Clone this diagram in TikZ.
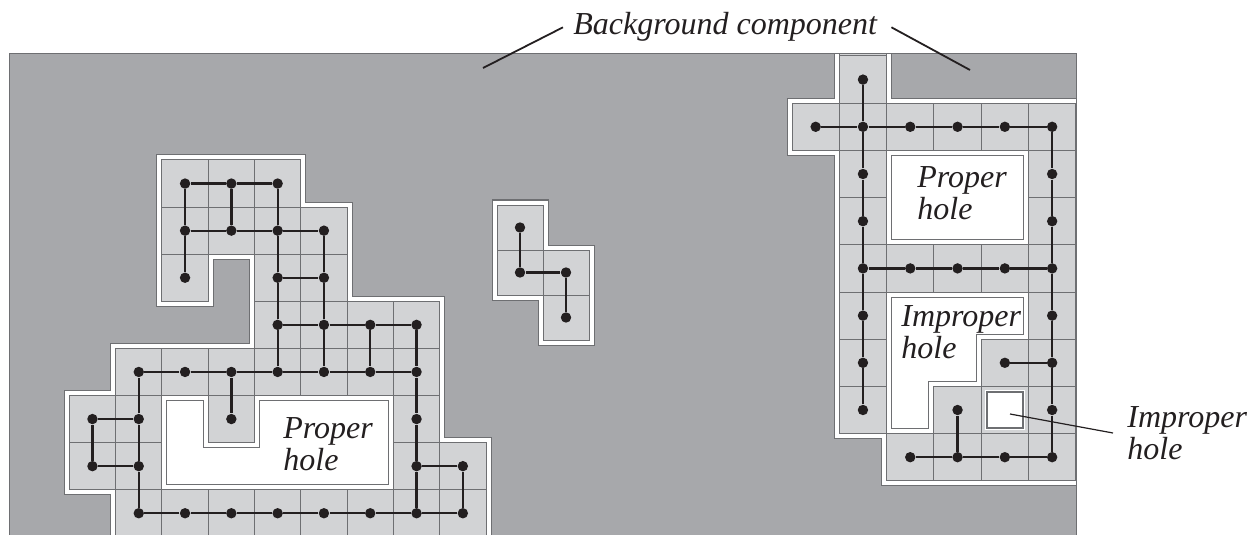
\documentclass[tikz,border=0pt]{standalone}
\usepackage{fontspec}
\setmainfont{Liberation Serif}
\definecolor{bg}{HTML}{A7A8AB}
\definecolor{cell}{HTML}{D2D3D5}
\definecolor{gridc}{HTML}{6E6F72}
\definecolor{ink}{HTML}{231F20}
\tikzset{
  dot/.style={circle,fill=ink,inner sep=0pt,minimum size=5.2pt},
  conn/.style={draw=ink,line width=1.15pt},
  gridline/.style={draw=gridc,line width=0.5pt},
  bandout/.style={draw=gridc,line width=5.5pt,line join=miter},
  bandin/.style={draw=white,line width=4.5pt,line join=miter},
  lbl/.style={font=\fontsize{16}{16}\selectfont\itshape,text=ink,inner sep=0pt,anchor=base west},
  lead/.style={draw=ink,line width=0.9pt},
  leadthin/.style={draw=ink,line width=0.6pt},
}
\def\Louter{(2,0) -- (5,0) -- (5,1) -- (6,1) -- (6,3) -- (8,3) -- (8,6) -- (9,6) -- (9,8.6) -- (1,8.6) -- (1,7) -- (0,7) -- (0,5) -- (1,5) -- (1,4) -- (4,4) -- (4,2) -- (3,2) -- (3,3) -- (2,3) -- cycle}
\def\Lhole{(2,5) -- (3,5) -- (3,6) -- (4,6) -- (4,5) -- (7,5) -- (7,7) -- (2,7) -- cycle}
\def\Mouter{(0,0) -- (1,0) -- (1,1) -- (2,1) -- (2,3) -- (1,3) -- (1,2) -- (0,2) -- cycle}
\def\Router{(1,-0.6) -- (2,-0.6) -- (2,1) -- (6.6,1) -- (6.6,9) -- (2,9) -- (2,8) -- (1,8) -- (1,2) -- (0,2) -- (0,1) -- (1,1) -- cycle}
\def\Rholea{(2,2) -- (5,2) -- (5,4) -- (2,4) -- cycle}
\def\Rholeb{(2,5) -- (5,5) -- (5,6) -- (4,6) -- (4,7) -- (3,7) -- (3,8) -- (2,8) -- cycle}
\begin{document}
\begin{tikzpicture}[x=0.5pt,y=-0.5pt]
\useasboundingbox (0,0) rectangle (1259,535);
\fill[bg] (9.5,54) rectangle (1076.5,535);
\begin{scope}
\clip (9.5,54) rectangle (1076.5,535);
% ---------------- left component
\begin{scope}[shift={(69.3,160)},x=23.15pt,y=-23.55pt]
  \draw[bandout] \Louter; \draw[bandin] \Louter;
  \fill[cell] \Louter;
  \begin{scope}
    \clip \Louter;
    \foreach \i in {0,...,9} \draw[gridline] (\i,-1) -- (\i,10);
    \foreach \j in {0,...,9} \draw[gridline] (-1,\j) -- (10,\j);
  \end{scope}
  \fill[white] \Lhole;
  \begin{scope}
    \clip \Lhole;
    \draw[bandout] \Lhole; \draw[bandin] \Lhole;
  \end{scope}
  \draw[gridline] \Lhole;
  \draw[gridline] \Louter;
  \foreach \cx/\ry in {2/0,3/0,4/0, 2/1,3/1,4/1,5/1, 2/2,4/2,5/2, 4/3,5/3,6/3,7/3,
      1/4,2/4,3/4,4/4,5/4,6/4,7/4, 0/5,1/5,3/5,7/5, 0/6,1/6,7/6,8/6,
      1/7,2/7,3/7,4/7,5/7,6/7,7/7,8/7}
    \node[dot] (L\cx-\ry) at (\cx+0.5,\ry+0.5) {};
  \foreach \a/\b in {L2-0/L3-0, L3-0/L4-0, L2-1/L3-1, L3-1/L4-1, L4-1/L5-1, L4-2/L5-2,
      L4-3/L5-3, L5-3/L6-3, L6-3/L7-3, L1-4/L2-4, L2-4/L3-4, L3-4/L4-4, L4-4/L5-4,
      L5-4/L6-4, L6-4/L7-4, L0-5/L1-5, L0-6/L1-6, L7-6/L8-6, L1-7/L2-7, L2-7/L3-7,
      L3-7/L4-7, L4-7/L5-7, L5-7/L6-7, L6-7/L7-7, L7-7/L8-7,
      L2-0/L2-1, L3-0/L3-1, L4-0/L4-1, L2-1/L2-2, L4-1/L4-2, L5-1/L5-2, L4-2/L4-3,
      L5-2/L5-3, L4-3/L4-4, L5-3/L5-4, L6-3/L6-4, L7-3/L7-4, L3-4/L3-5, L1-4/L1-5,
      L1-5/L1-6, L1-6/L1-7, L7-4/L7-5, L7-5/L7-6, L7-6/L7-7, L0-5/L0-6, L8-6/L8-7}
    \draw[conn] (\a) -- (\b);
\end{scope}
% ---------------- middle component
\begin{scope}[shift={(497,205)},x=23pt,y=-22.5pt]
  \draw[bandout] \Mouter; \draw[bandin] \Mouter;
  \fill[cell] \Mouter;
  \begin{scope}
    \clip \Mouter;
    \foreach \i in {0,...,2} \draw[gridline] (\i,-1) -- (\i,4);
    \foreach \j in {0,...,3} \draw[gridline] (-1,\j) -- (3,\j);
  \end{scope}
  \draw[gridline] \Mouter;
  \foreach \cx/\ry in {0/0,0/1,1/1,1/2}
    \node[dot] (M\cx-\ry) at (\cx+0.5,\ry+0.5) {};
  \foreach \a/\b in {M0-0/M0-1, M0-1/M1-1, M1-1/M1-2}
    \draw[conn] (\a) -- (\b);
\end{scope}
% ---------------- right component
\begin{scope}[shift={(792,56)},x=23.65pt,y=-23.6pt]
  \draw[bandout] \Router; \draw[bandin] \Router;
  \fill[cell] \Router;
  \begin{scope}
    \clip \Router;
    \foreach \i in {0,...,7} \draw[gridline] (\i,-1) -- (\i,10);
    \foreach \j in {0,...,9} \draw[gridline] (-1,\j) -- (8,\j);
  \end{scope}
  \fill[white] \Rholea;
  \begin{scope}
    \clip \Rholea;
    \draw[bandout] \Rholea; \draw[bandin] \Rholea;
  \end{scope}
  \draw[gridline] \Rholea;
  \fill[white] \Rholeb;
  \begin{scope}
    \clip \Rholeb;
    \draw[bandout] \Rholeb; \draw[bandin] \Rholeb;
  \end{scope}
  \draw[gridline] \Rholeb;
  \draw[gridline] \Router;
  % small improper hole
  \draw[white,line width=2pt] (4.12,7.12) rectangle (4.88,7.88);
  \draw[gridc,fill=white,line width=0.7pt] (4.12,7.12) rectangle (4.88,7.88);
  \foreach \cx/\ry in {1/0, 0/1,1/1,2/1,3/1,4/1,5/1, 1/2,5/2, 1/3,5/3,
      1/4,2/4,3/4,4/4,5/4, 1/5,5/5, 1/6,4/6,5/6, 1/7,3/7,5/7, 2/8,3/8,4/8,5/8}
    \node[dot] (R\cx-\ry) at (\cx+0.5,\ry+0.5) {};
  \foreach \a/\b in {R1-0/R1-1, R1-1/R1-2, R1-2/R1-3, R1-3/R1-4, R1-4/R1-5, R1-5/R1-6,
      R1-6/R1-7, R5-1/R5-2, R5-2/R5-3, R5-3/R5-4, R5-4/R5-5, R5-5/R5-6, R5-6/R5-7,
      R5-7/R5-8, R0-1/R1-1, R1-1/R2-1, R2-1/R3-1, R3-1/R4-1, R4-1/R5-1,
      R1-4/R2-4, R2-4/R3-4, R3-4/R4-4, R4-4/R5-4, R4-6/R5-6, R3-7/R3-8,
      R2-8/R3-8, R3-8/R4-8, R4-8/R5-8}
    \draw[conn] (\a) -- (\b);
\end{scope}
\end{scope}
% background outline
\draw[gridc,line width=0.5pt] (9.5,535) -- (9.5,54) -- (1076.5,54) -- (1076.5,535);
% ---------------- labels
\node[lbl] (lph) at (283,438) {\begin{tabular}[t]{@{}l@{}}Proper\\hole\end{tabular}};
\node[lbl] (rph) at (917,188) {\begin{tabular}[t]{@{}l@{}}Proper\\hole\end{tabular}};
\node[lbl] (rih) at (901,326) {\begin{tabular}[t]{@{}l@{}}Improper\\hole\end{tabular}};
\node[lbl] (bgl) at (573,35) {Background component};
\coordinate (bgA) at (483,68);
\coordinate (bgB) at (970,70);
\draw[lead] ([xshift=-5pt]bgl.west) -- (bgA);
\draw[lead] ([xshift=7pt]bgl.east) -- (bgB);
\node[lbl] (iml) at (1127,427) {\begin{tabular}[t]{@{}l@{}}Improper\\hole\end{tabular}};
\coordinate (ihA) at (1010,414);
\draw[leadthin] (ihA) -- ([xshift=-7pt,yshift=1.8pt]iml.west);
\end{tikzpicture}
\end{document}
